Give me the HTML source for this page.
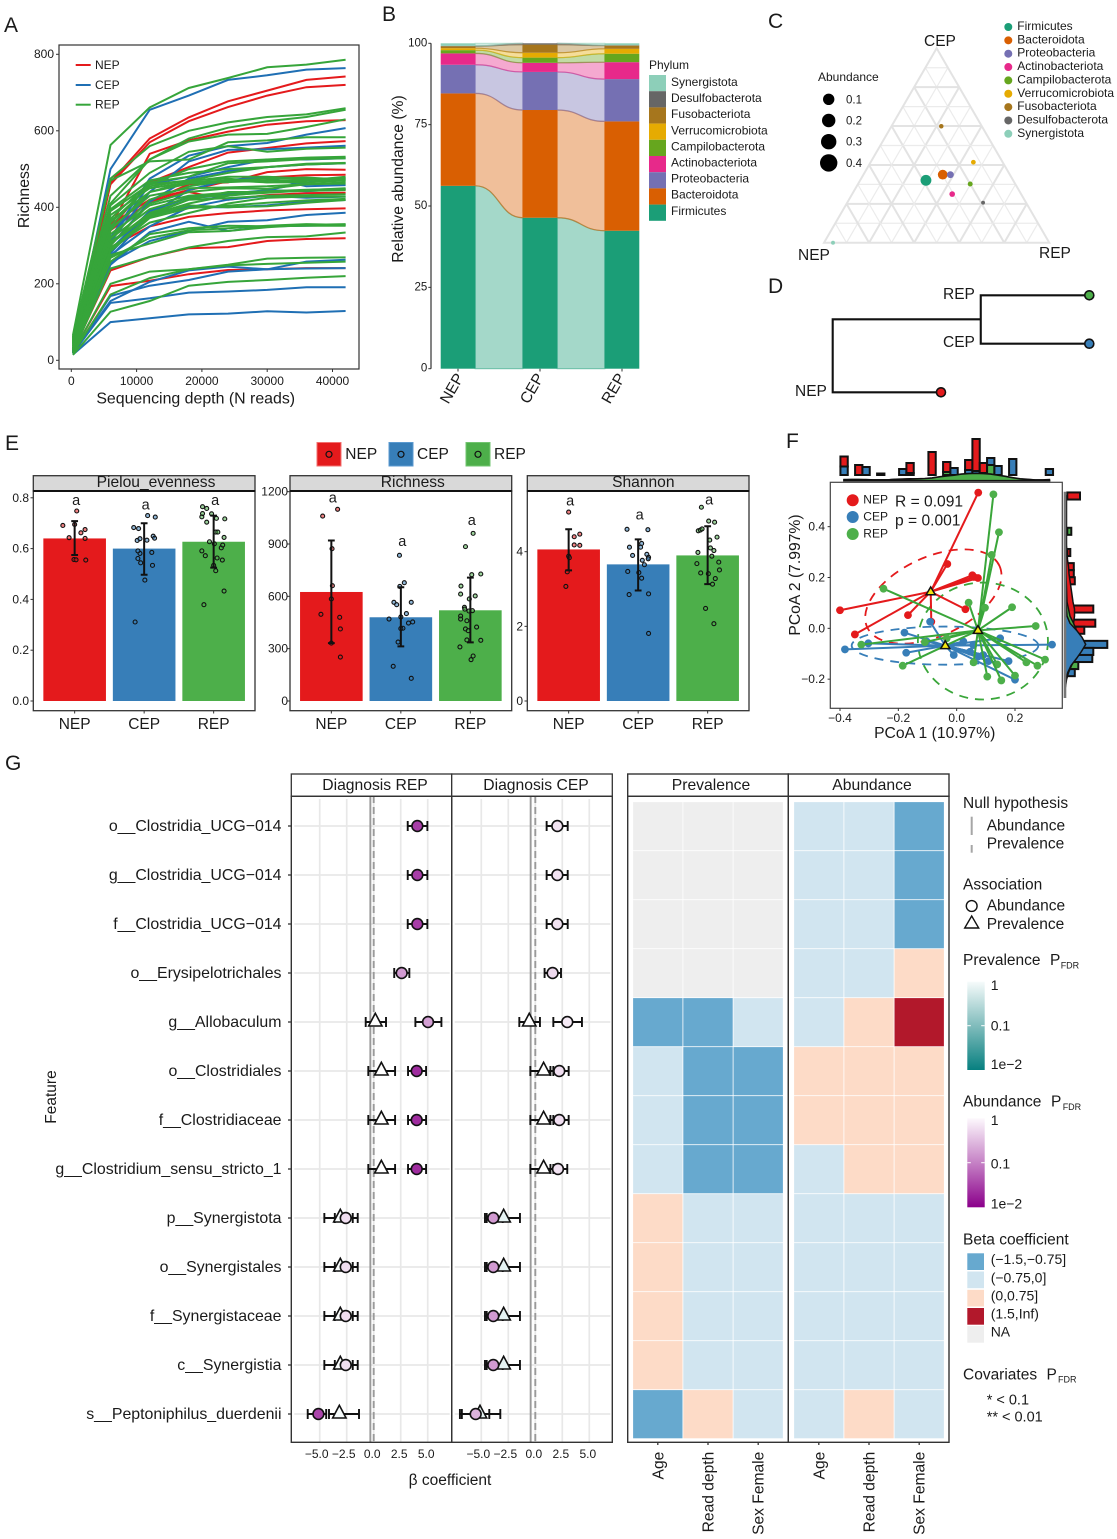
<!DOCTYPE html>
<html lang="en">
<head>
<meta charset="utf-8">
<title>Microbiome multi-panel figure</title>
<style>
html,body{margin:0;padding:0;background:#fff;}
svg{display:block;font-family:"Liberation Sans",Arial,sans-serif;}
text{fill:#1a1a1a;}
</style>
</head>
<body>
<svg id="fig" xmlns="http://www.w3.org/2000/svg" width="1117" height="1539" viewBox="0 0 1117 1539">
<defs>
<linearGradient id="prevGrad" x1="0" y1="0" x2="0" y2="1"><stop offset="0" stop-color="#f6fbfb"/><stop offset="0.5" stop-color="#80bcbc"/><stop offset="1" stop-color="#078080"/></linearGradient>
<linearGradient id="abunGrad" x1="0" y1="0" x2="0" y2="1"><stop offset="0" stop-color="#fdf8fd"/><stop offset="0.5" stop-color="#c581c5"/><stop offset="1" stop-color="#8b008b"/></linearGradient>
</defs>
<rect width="1117" height="1539" fill="#fff"/>

<g font-size="21">
<text x="4" y="32">A</text>
<text x="382" y="21">B</text>
<text x="768" y="28">C</text>
<text x="768" y="293">D</text>
<text x="5" y="450">E</text>
<text x="786" y="448">F</text>
<text x="5" y="770">G</text>
</g>

<g id="panelA">
<rect x="59" y="45" width="300" height="324" fill="none" stroke="#333" stroke-width="1.2"/>
<g id="aLines"></g>
<g id="aAxes"></g>
<text x="195.7" y="403.3" font-size="15.9" text-anchor="middle">Sequencing depth (N reads)</text>
<text transform="translate(29 195.7) rotate(-90)" font-size="15.8" text-anchor="middle">Richness</text>
<g font-size="12">
<line x1="75.7" x2="90.7" y1="65" y2="65" stroke="#e41a1c" stroke-width="2"/>
<text x="95" y="69">NEP</text>
<line x1="75.7" x2="90.7" y1="85" y2="85" stroke="#1f6fb4" stroke-width="2"/>
<text x="95" y="89">CEP</text>
<line x1="75.7" x2="90.7" y1="104.7" y2="104.7" stroke="#36a53a" stroke-width="2"/>
<text x="95" y="108.7">REP</text>
</g>
</g>

<g id="panelB">
<g id="bMarks"></g>
<g id="bAxes"></g>
<text transform="translate(403 179) rotate(-90)" font-size="15.7" text-anchor="middle">Relative abundance (%)</text>
<text x="649" y="69" font-size="12">Phylum</text>
<g id="bLegend"></g>
</g>

<g id="panelC">
<g id="cGrid"></g>
<g id="cPoints"></g>
<g font-size="15.5">
<text x="924" y="46">CEP</text>
<text x="798" y="260">NEP</text>
<text x="1039" y="258">REP</text>
</g>
<text x="818" y="81" font-size="12">Abundance</text>
<g id="cSize"></g>
<g id="cLegend"></g>
</g>

<g id="panelD"></g>

<g id="panelE">
<g font-size="15.5">
<rect x="317" y="442.5" width="24" height="23.5" fill="#e41a1c" stroke="#f2706f"/>
<circle cx="329" cy="454.3" r="3" fill="none" stroke="#111" stroke-width="1.2"/>
<text x="345.3" y="459">NEP</text>
<rect x="389" y="442.5" width="24" height="23.5" fill="#377eb8" stroke="#5b9ad0"/>
<circle cx="401" cy="454.3" r="3" fill="none" stroke="#111" stroke-width="1.2"/>
<text x="417" y="459">CEP</text>
<rect x="466" y="442.5" width="24" height="23.5" fill="#4daf4a" stroke="#72c470"/>
<circle cx="478" cy="454.3" r="3" fill="none" stroke="#111" stroke-width="1.2"/>
<text x="494" y="459">REP</text>
</g>
<g id="eFacets"></g>
</g>

<g id="panelF">
<g id="fTop"></g>
<g id="fRight"></g>
<rect x="830.3" y="482.3" width="232" height="226" fill="#fff" stroke="#444" stroke-width="1.2"/>
<g id="fMarks"></g>
<g id="fAxes"></g>
<text x="934.7" y="738" font-size="15.7" text-anchor="middle">PCoA 1 (10.97%)</text>
<text transform="translate(800 575) rotate(-90)" font-size="15.7" text-anchor="middle">PCoA 2 (7.997%)</text>
<g font-size="12">
<circle cx="852.7" cy="500.3" r="6" fill="#e41a1c"/>
<text x="863.3" y="503.7">NEP</text>
<circle cx="852.7" cy="517" r="6" fill="#377eb8"/>
<text x="863.3" y="520.3">CEP</text>
<circle cx="852.7" cy="534" r="6" fill="#4daf4a"/>
<text x="863.3" y="537.3">REP</text>
</g>
<text x="895" y="506.7" font-size="15.6">R = 0.091</text>
<text x="895" y="525.7" font-size="15.6">p = 0.001</text>
</g>

<g id="panelG">
<g id="gForest"></g>
<g id="gHeat"></g>
<text x="450" y="1485" font-size="15.5" text-anchor="middle">β coefficient</text>
<text transform="translate(56 1097) rotate(-90)" font-size="15.5" text-anchor="middle">Feature</text>
<g font-size="15.5">
<text x="963" y="808">Null hypothesis</text>
<line x1="971.7" x2="971.7" y1="816.7" y2="835" stroke="#a6a6a6" stroke-width="2"/>
<text x="986.7" y="830.7">Abundance</text>
<line x1="971.7" x2="971.7" y1="845" y2="852.7" stroke="#a6a6a6" stroke-width="2"/>
<text x="986.7" y="848.3">Prevalence</text>
</g>
<g font-size="15.5">
<text x="963" y="889.3">Association</text>
<circle cx="971.7" cy="906" r="5.4" fill="#fff" stroke="#111" stroke-width="1.4"/>
<text x="986.7" y="910.7">Abundance</text>
<polygon points="971.7,916 964.7,928 978.7,928" fill="#fff" stroke="#111" stroke-width="1.4"/>
<text x="986.7" y="929">Prevalence</text>
</g>
<g>
<text x="963" y="965" font-size="15.5">Prevalence</text>
<text x="1050" y="965" font-size="15.5">P</text>
<text x="1060.7" y="968.5" font-size="9">FDR</text>
<rect x="967.3" y="981.7" width="17.4" height="88.3" fill="url(#prevGrad)"/>
<line x1="967.3" x2="970.8" y1="1025.7" y2="1025.7" stroke="#fff"/>
<line x1="981.2" x2="984.7" y1="1025.7" y2="1025.7" stroke="#fff"/>
<g font-size="14">
<text x="990.7" y="990">1</text>
<text x="990.7" y="1030.7">0.1</text>
<text x="990.7" y="1069">1e−2</text>
</g>
</g>
<g>
<text x="963" y="1106.7" font-size="15.5">Abundance</text>
<text x="1051" y="1106.7" font-size="15.5">P</text>
<text x="1062.7" y="1110" font-size="9">FDR</text>
<rect x="967.3" y="1118.3" width="17.4" height="89" fill="url(#abunGrad)"/>
<line x1="967.3" x2="970.8" y1="1162.7" y2="1162.7" stroke="#fff"/>
<line x1="981.2" x2="984.7" y1="1162.7" y2="1162.7" stroke="#fff"/>
<g font-size="14">
<text x="990.7" y="1125">1</text>
<text x="990.7" y="1168.3">0.1</text>
<text x="990.7" y="1208.3">1e−2</text>
</g>
</g>
<g>
<text x="963" y="1244.3" font-size="15.5">Beta coefficient</text>
<rect x="967.3" y="1253.3" width="16.7" height="16.7" fill="#67a9cf"/>
<rect x="967.3" y="1271.5" width="16.7" height="16.7" fill="#d1e5f0"/>
<rect x="967.3" y="1289.8" width="16.7" height="16.7" fill="#fddbc7"/>
<rect x="967.3" y="1308" width="16.7" height="16.7" fill="#b2182b"/>
<rect x="967.3" y="1326" width="16.7" height="16.7" fill="#eeeeee"/>
<g font-size="14">
<text x="990.7" y="1264">(−1.5,−0.75]</text>
<text x="990.7" y="1282.3">(−0.75,0]</text>
<text x="990.7" y="1300.7">(0,0.75]</text>
<text x="990.7" y="1318.7">(1.5,Inf)</text>
<text x="990.7" y="1336.7">NA</text>
</g>
</g>
<g>
<text x="963" y="1379.3" font-size="15.5">Covariates</text>
<text x="1046.5" y="1379.3" font-size="15.5">P</text>
<text x="1058" y="1382.5" font-size="9">FDR</text>
<text x="986.7" y="1404.3" font-size="14.5">* &lt; 0.1</text>
<text x="986.7" y="1421.7" font-size="14.5">** &lt; 0.01</text>
</g>
</g>
</svg>

<script>
/* ---------- Panel A data ---------- */
const rareDepths=[250,6000,12000,18000,24000,30000,36000,42000];
const rareXTicks=[0,10000,20000,30000,40000];
const rareYTicks=[0,200,400,600,800];
const rareNEP=[
[25,465,580,635,677,705,733,742],[28,460,570,625,662,692,714,720],[30,350,540,575,598,616,625,628],
[30,345,465,505,543,555,567,573],[25,340,415,460,465,492,500,498],[30,355,420,445,468,478,484,485],
[28,300,415,440,420,432,437,438],[26,295,350,375,385,392,395,397],[24,235,270,293,296,312,317,319],
[22,194,208,225,236,238,241,241]];
const rareCEP=[
[30,500,655,692,733,745,760,764],[28,320,475,535,560,568,590,607],[26,310,440,520,550,552,556,561],
[25,315,460,480,505,525,525,528],[24,300,415,475,495,505,512,515],[24,280,390,425,430,445,465,476],
[22,270,380,445,472,478,455,458],[22,290,390,427,435,445,442,448],[20,285,380,400,420,430,425,428],
[20,275,350,400,400,405,415,419],[20,255,312,338,362,366,380,386],[20,250,335,362,338,350,352,354],
[18,168,195,210,232,238,258,263],[18,150,162,177,180,184,191,191],[15,100,110,120,122,128,125,129],
[18,155,205,235,245,238,240,241]];
const rareREP=[
[65,563,661,712,738,766,773,786],[60,475,560,600,622,636,643,659],[58,430,525,580,608,625,636,655],
[55,410,525,572,590,592,610,630],[52,470,520,525,570,575,583,583],[50,405,490,545,560,545,553,556],
[48,390,460,500,520,525,530,532],[46,370,465,480,515,520,526,528],[44,360,455,470,490,505,512,515],
[42,350,460,470,475,465,470,480],[40,340,440,468,480,480,475,476],[38,320,420,455,470,465,465,470],
[36,300,410,440,450,448,460,465],[34,310,380,420,440,440,445,450],[32,305,380,410,430,440,443,445],
[30,295,360,385,410,425,428,428],[28,290,375,405,400,403,412,419],[26,268,320,340,345,352,356,354],
[25,275,305,335,338,348,354,356],[22,240,270,295,312,322,324,334],[20,200,232,238,250,266,268,269],
[18,172,215,238,248,252,255,258],[14,127,155,195,205,210,216,220],
[62,395,470,490,500,505,514,516],[57,380,450,465,470,475,478,472],[53,365,440,462,466,470,472,470],
[49,345,430,450,452,455,460,462],[45,330,405,430,438,442,446,448],[41,318,395,425,432,438,444,446],
[37,308,385,420,424,430,432,434],[33,285,372,398,404,412,418,422],[29,258,330,345,352,350,352,352]];

/* ---------- Panel B data ---------- */
const phyla=["Firmicutes","Bacteroidota","Proteobacteria","Actinobacteriota","Campilobacterota","Verrucomicrobiota","Fusobacteriota","Desulfobacterota","Synergistota"];
const phylaColors=["#1b9e77","#d95f02","#7570b3","#e7298a","#66a61e","#e6ab02","#a6761d","#666666","#8dcfb9"];
const stackNEP=[56.2,28.4,8.8,3.5,1.0,0.6,0.6,0.1,0.8];
const stackCEP=[46.4,33.1,11.7,2.8,1.6,1.5,2.5,0.4,0];
const stackREP=[42.4,33.6,13.0,5.2,2.6,1.5,1.0,0.1,0.6];
const stackYTicks=[0,25,50,75,100];
const stackGroups=["NEP","CEP","REP"];

/* ---------- Panel C data ---------- */
const ternNEP=[0.387,0.298,0.264,0.306,0.2,0.13,0.18,0.191,0.96];
const ternCEP=[0.321,0.35,0.35,0.25,0.302,0.414,0.599,0.206,0];
const ternREP=[0.292,0.352,0.386,0.444,0.498,0.456,0.221,0.603,0.04];
const ternAbundance=[0.46,0.33,0.1,0.04,0.02,0.015,0.01,0.002,0.002];
const ternLevels=[0.1,0.2,0.3,0.4,0.5,0.6,0.7,0.8,0.9];
const sizeLegendValues=[0.1,0.2,0.3,0.4];

/* ---------- Panel D data ---------- */
const treeLabels=["REP","CEP","NEP"];
const treeDepth=[1,1,0.422];
const treeNode=0.577;
const treeColors=["#4daf4a","#377eb8","#e41a1c"];

/* ---------- Panel E data ---------- */
const groups=["NEP","CEP","REP"];
const pielouMean=[0.64,0.60,0.627];
const pielouLo=[0.575,0.497,0.525];
const pielouHi=[0.708,0.70,0.73];
const pielouTicks=[0,0.2,0.4,0.6,0.8];
const pielouNEP=[[-.17,.691],[.03,.748],[0,.695],[.15,.675],[.09,.662],[-.08,.643],[.15,.64],[-.01,.557],[.02,.556],[.16,.555]];
const pielouCEP=[[-.13,.311],[.01,.476],[.12,.534],[.11,.585],[-.05,.544],[-.09,.561],[-.06,.581],[-.09,.591],[-.1,.632],[-.06,.639],[.04,.633],[.13,.649],[.15,.641],[-.15,.683],[-.08,.679],[.05,.73],[.16,.724]];
const pielouREP=[[-.14,.379],[.15,.433],[.03,.513],[0,.534],[.125,.555],[.05,.563],[-.12,.572],[-.17,.591],[.11,.603],[.13,.614],[.01,.619],[-.06,.627],[.15,.644],[.03,.665],[.06,.665],[-.1,.704],[.04,.719],[.16,.717],[-.03,.737],[-.17,.725],[-.16,.738],[-.1,.758],[-.16,.765]];
const richMean=[625,480,520];
const richLo=[332,313,336];
const richHi=[920,652,707];
const richTicks=[0,300,600,900,1200];
const richNEP=[[.09,1099],[-.125,1060],[.01,873],[.015,661],[0,585],[-.15,497],[.12,480],[.13,413],[0,332],[.13,252]];
const richCEP=[[-.02,835],[.05,678],[-.015,657],[-.1,566],[-.06,552],[.15,566],[.08,501],[0,482],[-.17,470],[.11,447],[.17,453],[.03,417],[0,415],[-.04,338],[-.11,199],[.15,130]];
const richREP=[[.04,961],[-.07,885],[.02,724],[.15,728],[-.135,659],[-.14,613],[.07,602],[-.015,585],[-.085,537],[-.08,527],[-.02,516],[.03,518],[-.14,487],[-.14,470],[-.05,460],[.09,424],[-.07,413],[-.03,403],[-.05,350],[.15,348],[-.15,310],[.04,258],[.01,237]];
const shanMean=[4.06,3.66,3.9];
const shanLo=[3.5,2.96,3.13];
const shanHi=[4.6,4.33,4.68];
const shanTicks=[0,2,4];
const shanNEP=[[0,5.06],[.16,4.47],[.08,4.40],[.08,4.18],[.16,4.17],[0,3.88],[.01,3.84],[-.02,3.46],[-.04,3.07]];
const shanCEP=[[-.16,4.6],[.14,4.59],[.05,4.22],[-.125,4.12],[.035,4.12],[-.08,3.9],[.125,3.93],[.15,3.85],[.145,3.81],[.06,3.77],[.09,3.65],[-.15,3.47],[.01,3.44],[.05,3.29],[-.13,2.85],[.15,2.87],[.15,1.81]];
const shanREP=[[-.09,5.19],[.015,4.82],[.1,4.79],[-.135,4.56],[-.105,4.58],[-.08,4.61],[.135,4.39],[.03,4.31],[.04,4.1],[.09,4.03],[-.14,3.98],[.06,3.88],[.16,3.72],[-.155,3.68],[.17,3.51],[-.1,3.43],[.01,3.41],[.11,3.28],[.07,3.13],[-.03,2.48],[.09,2.07]];
const facetTitles=["Pielou_evenness","Richness","Shannon"];

/* ---------- Panel F data ---------- */
const pcoaXTicks=[-0.4,-0.2,0,0.2];
const pcoaYTicks=[-0.2,0,0.2,0.4];
const centroidsX=[-0.089,-0.039,0.073];
const centroidsY=[0.144,-0.068,-0.008];
const pcoaNEPx=[0.074,-0.032,0.054,0.073,0.059,0.03,-0.167,-0.087,-0.4,-0.349];
const pcoaNEPy=[0.534,0.253,0.209,0.198,0.202,0.075,0.052,0.026,0.071,-0.024];
const pcoaCEPx=[-0.383,-0.173,-0.179,-0.091,-0.01,0.327,0.2,0.178,0.149,0.109,0.057,0.023,0.074,-0.303,-0.103,0.091,0.046];
const pcoaCEPy=[-0.083,-0.096,-0.017,0.026,-0.105,-0.064,-0.202,-0.129,-0.039,-0.129,-0.066,-0.052,-0.111,-0.059,-0.052,-0.105,-0.092];
const pcoaREPx=[-0.251,0.126,0.145,0.12,0.041,0.097,0.19,0.271,0.303,0.277,0.239,0.139,0.2,0.153,0.105,0.058,-0.185,-0.327,-0.109,-0.034];
const pcoaREPy=[0.156,0.527,0.378,0.289,0.101,0.081,0.083,0.009,-0.123,-0.147,-0.134,-0.142,-0.186,-0.205,-0.19,-0.134,-0.147,-0.064,-0.054,-0.039];
const ellipseCX=[-0.08,-0.04,0.09];
const ellipseCY=[0.125,-0.068,-0.05];
const ellipseA=[0.25,0.32,0.223];
const ellipseB=[0.155,0.075,0.23];
const ellipseAngle=[-25,0,0];
const topHistStart=-0.386;
const topHistStep=0.02514;
const topNEP=[1,0,1,0,0,0,0,0,0,1,0,0,2.3,0,1,0,0,1,3.2,1,0,0,0,0,0,0,0,0,0];
const topCEP=[.85,0,0,.8,0,.15,0,0,.6,.2,0,0,0,0,0,.7,0,.5,.4,0,.7,.9,0,1.6,0,0,0,0,.6];
const topREP=[0,0,0,0,0,0,0,0,0,0,0,0,0,0,.3,0,0,0,0,.2,1,0,0,0,0,0,0,0,0];
const topDensNEP=[.15,.2,.2,.15,.1,.1,.15,.25,.3,.35,.3,.3,.4,.4,.4,.45,.5,.55,.5,.4,.3,.2,.1,.1,.05,.05,.05,.05,.05];
const topDensCEP=[.2,.2,.2,.2,.15,.15,.15,.2,.25,.2,.15,.15,.15,.2,.25,.3,.3,.35,.4,.45,.5,.5,.5,.45,.3,.2,.15,.15,.2];
const topDensREP=[.1,.1,.1,.1,.1,.15,.15,.2,.25,.3,.35,.4,.5,.7,.85,1,1.2,1.3,1.35,1.3,1.2,1,.8,.55,.35,.25,.15,.1,.05];
const rightHistStart=0.5207;
const rightHistStep=-0.0278;
const rightNEP=[1.27,0,0,0,0,0,0,0,.3,0,.65,.65,.75,0,0,0,2.6,0,2.8,.9,0,0,0,0,0,0,0,0];
const rightCEP=[0,0,0,0,0,0,0,0,0,0,0,0,0,0,0,0,0,0,0,.8,0,4,2.6,2.2,0,.75,.0,0];
const rightREP=[0,0,0,0,0,.4,0,0,0,0,0,0,0,0,0,0,0,0,0,0,0,0,0,.3,1.1,0,0,0];
const rightDensNEP=[.15,.15,.15,.15,.15,.15,.15,.15,.2,.25,.35,.4,.5,.6,.7,.8,.95,.95,.85,.7,.5,.4,.27,.2,.1,.05,.03,.02];
const rightDensCEP=[.02,.02,.02,.02,.02,.02,.02,.02,.02,.02,.03,.03,.03,.05,.07,.1,.15,.2,.5,1.15,1.7,2.07,1.65,1.15,.6,.27,.1,.03];
const rightDensREP=[.08,.08,.1,.12,.12,.12,.1,.1,.1,.1,.1,.1,.12,.15,.17,.2,.35,.5,.85,1.15,1.35,1.35,1.15,1,.65,.35,.15,.05];

/* ---------- Panel G data ---------- */
const features=["o__Clostridia_UCG−014","g__Clostridia_UCG−014","f__Clostridia_UCG−014","o__Erysipelotrichales","g__Allobaculum","o__Clostridiales","f__Clostridiaceae","g__Clostridium_sensu_stricto_1","p__Synergistota","o__Synergistales","f__Synergistaceae","c__Synergistia","s__Peptoniphilus_duerdenii"];
const betaTicks=[-5,-2.5,0,2.5,5];
const repAbEst=[4.04,4.04,4.04,2.59,5.03,3.98,3.98,3.98,-2.59,-2.59,-2.59,-2.59,-5.12];
const repAbLo=[3.15,3.15,3.15,1.9,3.86,3.18,3.18,3.18,-3.6,-3.6,-3.6,-3.6,-6.11];
const repAbHi=[4.97,4.97,4.97,3.3,6.27,4.85,4.85,4.85,-1.48,-1.48,-1.48,-1.48,-4.4];
const repAbP=[.03,.03,.03,.16,.18,.022,.022,.022,.55,.55,.55,.55,.035];
const repPrEst=[null,null,null,null,.15,.71,.71,.71,-3.09,-3.09,-3.09,-3.09,-3.18];
const repPrLo=[null,null,null,null,-.74,-.5,-.5,-.5,-4.57,-4.57,-4.57,-4.57,-4.14];
const repPrHi=[null,null,null,null,1.14,1.98,1.98,1.98,-1.94,-1.94,-1.94,-1.94,-1.36];
const repPrP=[null,null,null,null,1,1,1,1,.9,.9,.9,.9,.85];
const cepAbEst=[2.04,2.04,2.04,1.6,2.96,2.22,2.22,2.1,-3.89,-3.89,-3.89,-3.89,-5.52];
const cepAbLo=[1.05,1.05,1.05,.86,1.67,1.4,1.4,1.4,-4.66,-4.66,-4.66,-4.66,-6.98];
const cepAbHi=[3,3,3,2.38,4.32,3.09,3.09,2.96,-3.02,-3.02,-3.02,-3.02,-4.26];
const cepAbP=[.6,.6,.6,.5,.7,.55,.55,.6,.16,.16,.16,.16,.25];
const cepPrEst=[null,null,null,null,-.56,.77,.77,.77,-2.93,-2.93,-2.93,-2.93,-5.12];
const cepPrLo=[null,null,null,null,-1.48,-.46,-.46,-.46,-4.5,-4.5,-4.5,-4.5,-6.8];
const cepPrHi=[null,null,null,null,.43,1.67,1.67,1.67,-1.42,-1.42,-1.42,-1.42,-3.24];
const cepPrP=[null,null,null,null,1,1,1,1,.63,.63,.63,.63,.63];
const heatCols=["Age","Read depth","Sex Female"];
const heatPrevalence=[
[null,null,null],[null,null,null],[null,null,null],[null,null,null],
[-1,-1,-.3],[-.3,-1,-1],[-.3,-1,-1],[-.3,-1,-1],
[.3,-.3,-.3],[.3,-.3,-.3],[.3,-.3,-.3],[.3,-.3,-.3],[-1,.3,-.3]];
const heatAbundance=[
[-.3,-.3,-1],[-.3,-.3,-1],[-.3,-.3,-1],[-.3,-.3,.3],
[-.3,.3,2],[.3,.3,.3],[.3,.3,.3],[-.3,.3,.3],
[-.3,-.3,-.3],[-.3,-.3,-.3],[-.3,-.3,-.3],[-.3,-.3,-.3],[-.3,.3,-.3]];

/* ---------- helpers ---------- */
const NS="http://www.w3.org/2000/svg";
function mk(parent,tag,attrs,txt){
  const e=document.createElementNS(NS,tag);
  for(const k in attrs){e.setAttribute(k,attrs[k]);}
  if(txt!==undefined){e.textContent=txt;}
  parent.appendChild(e);
  return e;
}
const $=id=>document.getElementById(id);
const fmtMinus=s=>String(s).replace("-","−");
const RED="#e41a1c",BLUE="#377eb8",GREEN="#4daf4a";

/* ---------- Panel A ---------- */
(function(){
  const xA=d=>71.3+d*65.3/10000;
  const yA=v=>360.3-v*0.3825;
  const g=$("aLines");
  const sets=[[rareNEP,"#e41a1c","rarefaction-line-nep"],[rareCEP,"#1f6fb4","rarefaction-line-cep"],[rareREP,"#36a53a","rarefaction-line-rep"]];
  sets.forEach(function(s){
    s[0].forEach(function(c){
      const pts=c.map(function(v,i){return xA(rareDepths[i]).toFixed(1)+","+yA(v).toFixed(1);}).join(" ");
      const l=mk(g,"polyline",{points:pts,fill:"none",stroke:s[1],"stroke-width":2});
      
      
    });
  });
  const ax=$("aAxes");
  rareXTicks.forEach(function(t){
    const k=mk(ax,"line",{x1:xA(t),x2:xA(t),y1:369,y2:372,stroke:"#333"});
    
    
    const l=mk(ax,"text",{x:xA(t),y:385,"font-size":12,"text-anchor":"middle"},t);
    
    
  });
  rareYTicks.forEach(function(t){
    const k=mk(ax,"line",{x1:56,x2:59,y1:yA(t),y2:yA(t),stroke:"#333"});
    
    
    const l=mk(ax,"text",{x:54,y:yA(t)+3.5,"font-size":12,"text-anchor":"end"},t);
    
    
  });
})();

/* ---------- Panel B ---------- */
(function(){
  const yB=v=>368.7-v*3.254;
  const barL=[440.7,522.7,604.7];
  const barW=34.6;
  const cols=[stackNEP,stackCEP,stackREP];
  const cums=cols.map(function(c){let s=0;return c.map(function(v){const a=s;s+=v;return [a,s];});});
  const g=$("bMarks");
  for(let f=0;f<2;f++){
    const x0=barL[f]+barW,x1=barL[f+1],mx=(x0+x1)/2;
    phyla.forEach(function(p,i){
      const a=cums[f][i],b=cums[f+1][i];
      const d="M"+x0+" "+yB(a[1])+"C"+mx+" "+yB(a[1])+" "+mx+" "+yB(b[1])+" "+x1+" "+yB(b[1])+
              "L"+x1+" "+yB(b[0])+"C"+mx+" "+yB(b[0])+" "+mx+" "+yB(a[0])+" "+x0+" "+yB(a[0])+"Z";
      const fl=mk(g,"path",{d:d,fill:phylaColors[i],"fill-opacity":0.4,stroke:phylaColors[i],"stroke-opacity":0.5,"stroke-width":1.2});
      
      
    });
  }
  cols.forEach(function(c,f){
    phyla.forEach(function(p,i){
      const a=cums[f][i];
      if(c[i]<=0){return;}
      const r=mk(g,"rect",{x:barL[f],y:yB(a[1]),width:barW,height:yB(a[0])-yB(a[1]),fill:phylaColors[i]});
      
      
    });
  });
  const ax=$("bAxes");
  const al=mk(ax,"line",{x1:431,x2:431,y1:yB(100),y2:yB(0),stroke:"#666","stroke-width":1.6});
  
  
  stackYTicks.forEach(function(t){
    const k=mk(ax,"line",{x1:428.3,x2:431,y1:yB(t),y2:yB(t),stroke:"#333"});
    
    
    const l=mk(ax,"text",{x:427.3,y:yB(t)+3,"font-size":11.5,"text-anchor":"end"},t);
    
    
  });
  stackGroups.forEach(function(n,i){
    const cx=barL[i]+barW/2;
    const k=mk(ax,"line",{x1:cx,x2:cx,y1:368.7,y2:371.5,stroke:"#333"});
    
    
    const tx=cx-(i===0?6:(i===1?8:8.5)),ty=388.5;
    const l=mk(ax,"text",{x:tx,y:ty+5,"font-size":15.5,"text-anchor":"middle",transform:"rotate(-60 "+tx+" "+ty+")"},n);
    
    
  });
  const lg=$("bLegend");
  for(let i=phyla.length-1,row=0;i>=0;i--,row++){
    const r=mk(lg,"rect",{x:649,y:75+row*16.2,width:17,height:16.2,fill:phylaColors[i]});
    
    
    const t=mk(lg,"text",{x:671,y:86+row*16.1,"font-size":12},phyla[i]);
    
    
  }
})();

/* ---------- Panel C ---------- */
(function(){
  const Lx=824,Ly=242.7,W=225.3,H=194.4;
  const tx=(r,c)=>Lx+(r+c/2)*W;
  const ty=c=>Ly-c*H;
  const grid=$("cGrid");
  function seg(r1,c1,r2,c2,major){
    const l=mk(grid,"line",{x1:tx(r1,c1),y1:ty(c1),x2:tx(r2,c2),y2:ty(c2),stroke:major?"#e3e3e3":"#ebebeb","stroke-width":major?2:1.2});
    
    
  }
  ternLevels.forEach(function(f,i){
    const major=(i%2===1);
    seg(0,f,1-f,f,major);
    seg(f,0,f,1-f,major);
    seg(0,1-f,1-f,0,major);
  });
  const o=mk(grid,"polygon",{points:tx(0,0)+","+ty(0)+" "+tx(1,0)+","+ty(0)+" "+tx(0,1)+","+ty(1),fill:"none",stroke:"#e3e3e3","stroke-width":2});
  
  
  const pg=$("cPoints");
  phyla.forEach(function(p,i){
    const total=ternNEP[i]+ternCEP[i]+ternREP[i];
    const c=mk(pg,"circle",{cx:tx(ternREP[i]/total,ternCEP[i]/total),cy:ty(ternCEP[i]/total),r:1.7+5.5*Math.sqrt(ternAbundance[i]),fill:phylaColors[i]});
    
    
  });
  const sz=$("cSize");
  sizeLegendValues.forEach(function(v,i){
    const y=99.3+i*21.2;
    const c=mk(sz,"circle",{cx:828.7,cy:y,r:4.7+10*v,fill:"#000"});
    
    
    const t=mk(sz,"text",{x:846,y:y+4,"font-size":11.5},v.toFixed(1));
    
    
  });
  const lg=$("cLegend");
  phyla.forEach(function(p,i){
    const y=27+i*13.35;
    const c=mk(lg,"circle",{cx:1008.3,cy:y,r:4,fill:phylaColors[i]});
    
    
    const t=mk(lg,"text",{x:1017.3,y:y+3,"font-size":12},p);
    
    
  });
})();

/* ---------- Panel D ---------- */
(function(){
  const g=$("panelD");
  const xD=v=>832.7+256.6*v;
  const rowY=[295.3,343.7,392.3];
  const nodeY=(rowY[0]+rowY[1])/2-0.2;
  const d="M"+xD(treeDepth[2])+" "+rowY[2]+"H"+xD(0)+"V"+nodeY+"H"+xD(treeNode)+
          "M"+xD(treeDepth[0])+" "+rowY[0]+"H"+xD(treeNode)+"V"+rowY[1]+"H"+xD(treeDepth[1]);
  const p=mk(g,"path",{d:d,fill:"none",stroke:"#111","stroke-width":2.1});
  
  
  treeLabels.forEach(function(n,i){
    const c=mk(g,"circle",{cx:xD(treeDepth[i]),cy:rowY[i],r:4.5,fill:treeColors[i],stroke:"#111","stroke-width":1.6});
    
    
    const lx=i<2?943:795;
    const t=mk(g,"text",{x:lx,y:rowY[i]+3.5,"font-size":15.5},n);
    
    
  });
})();

/* ---------- Panel E ---------- */
(function(){
  const root=$("eFacets");
  const fills=[RED,BLUE,GREEN];
  const letterY=[[505,509.7,505],[502.7,546,525],[505.7,519.7,504.3]];
  const facets=[
    {x0:33.3,x1:255,titleX:156,lblX:29,tickX:[30.5,33.3],scale:v=>701-v*254,ticks:pielouTicks,fmt:v=>v.toFixed(1),mean:pielouMean,lo:pielouLo,hi:pielouHi,dots:[pielouNEP,pielouCEP,pielouREP]},
    {x0:290,x1:511.7,titleX:412.8,lblX:288,tickX:[287.2,290],scale:v=>701-v*0.17444,ticks:richTicks,fmt:v=>String(v),mean:richMean,lo:richLo,hi:richHi,dots:[richNEP,richCEP,richREP]},
    {x0:527.3,x1:749,titleX:643.3,lblX:523,tickX:[524.5,527.3],scale:v=>701-v*37.33,ticks:shanTicks,fmt:v=>String(v),mean:shanMean,lo:shanLo,hi:shanHi,dots:[shanNEP,shanCEP,shanREP]}
  ];
  facets.forEach(function(f,fi){
    const g=mk(root,"g",{});
    
    
    const strip=mk(g,"rect",{x:f.x0,y:475.7,width:f.x1-f.x0,height:15.3,fill:"#d9d9d9",stroke:"#333","stroke-width":1.3});
    
    
    const panel=mk(g,"rect",{x:f.x0,y:491,width:f.x1-f.x0,height:219.7,fill:"#fff",stroke:"#333","stroke-width":1.3});
    
    
    const sl=mk(g,"line",{x1:f.x0,x2:f.x1,y1:491,y2:491,stroke:"#111","stroke-width":1.9});
    
    
    const title=mk(g,"text",{x:f.titleX,y:487,"font-size":15.6,"text-anchor":"middle"},facetTitles[fi]);
    
    
    f.ticks.forEach(function(t){
      const k=mk(g,"line",{x1:f.tickX[0],x2:f.tickX[1],y1:f.scale(t),y2:f.scale(t),stroke:"#333"});
      
      
      const l=mk(g,"text",{x:f.lblX,y:f.scale(t)+4,"font-size":12,"text-anchor":"end"},f.fmt(t));
      
      
    });
    const mid=(f.x0+f.x1)/2;
    groups.forEach(function(n,i){
      const cx=mid+(i-1)*69.5;
      const b=mk(g,"rect",{x:cx-31.3,y:f.scale(f.mean[i]),width:62.6,height:701-f.scale(f.mean[i]),fill:fills[i]});
      
      
      f.dots[i].forEach(function(d){
        const c=mk(g,"circle",{cx:cx+d[0]*69.5,cy:f.scale(d[1]),r:2,fill:fills[i],"fill-opacity":0.55,stroke:"#111","stroke-width":1.1});
        
        
      });
      const yl=f.scale(f.lo[i]),yh=f.scale(f.hi[i]);
      const e=mk(g,"path",{d:"M"+cx+" "+yl+"V"+yh+"M"+(cx-3.4)+" "+yl+"H"+(cx+3.4)+"M"+(cx-3.4)+" "+yh+"H"+(cx+3.4),fill:"none",stroke:"#111","stroke-width":2});
      
      
      const k=mk(g,"line",{x1:cx,x2:cx,y1:710.7,y2:713.5,stroke:"#333"});
      
      
      const l=mk(g,"text",{x:cx,y:729,"font-size":15.5,"text-anchor":"middle"},n);
      
      
      const a=mk(g,"text",{x:cx+1.5,y:letterY[fi][i],"font-size":14.5,"text-anchor":"middle"},"a");
      
      
    });
  });
})();

/* ---------- Panel F ---------- */
(function(){
  const xF=v=>770+(560+875*v)/3;
  const yF=v=>425+(610-762.5*v)/3;
  const fills=[RED,BLUE,GREEN];
  const lineCols=["#e41a1c","#377eb8","#3aa63a"];
  const marks=$("fMarks");
  ellipseCX.forEach(function(cx,i){
    const px=xF(cx),py=yF(ellipseCY[i]);
    const e=mk(marks,"ellipse",{cx:px,cy:py,rx:ellipseA[i]*291.67,ry:ellipseB[i]*254.17,fill:"none",stroke:lineCols[i],"stroke-width":1.8,"stroke-dasharray":"9 7",transform:"rotate("+ellipseAngle[i]+" "+px+" "+py+")"});
    
    
  });
  const sets=[[pcoaNEPx,pcoaNEPy],[pcoaCEPx,pcoaCEPy],[pcoaREPx,pcoaREPy]];
  sets.forEach(function(s,gi){
    s[0].forEach(function(x,i){
      const l=mk(marks,"line",{x1:xF(centroidsX[gi]),y1:yF(centroidsY[gi]),x2:xF(x),y2:yF(s[1][i]),stroke:lineCols[gi],"stroke-width":2});
      
      
      const c=mk(marks,"circle",{cx:xF(x),cy:yF(s[1][i]),r:3.9,fill:fills[gi]});
      
      
    });
  });
  centroidsX.forEach(function(x,i){
    const px=xF(x),py=yF(centroidsY[i]);
    const t=mk(marks,"polygon",{points:px+","+(py-4.8)+" "+(px-4.6)+","+(py+3)+" "+(px+4.6)+","+(py+3),fill:"#f5e60f",stroke:"#111","stroke-width":1.5});
    
    
  });
  const ax=$("fAxes");
  pcoaXTicks.forEach(function(t){
    const k=mk(ax,"line",{x1:xF(t),x2:xF(t),y1:708.3,y2:711,stroke:"#333"});
    
    
    const l=mk(ax,"text",{x:xF(t),y:722,"font-size":12,"text-anchor":"middle"},fmtMinus(t.toFixed(1)));
    
    
  });
  pcoaYTicks.forEach(function(t){
    const k=mk(ax,"line",{x1:827.6,x2:830.3,y1:yF(t),y2:yF(t),stroke:"#333"});
    
    
    const l=mk(ax,"text",{x:825,y:yF(t)+4,"font-size":12,"text-anchor":"end"},fmtMinus(t.toFixed(1)));
    
    
  });
  /* top marginal */
  const top=$("fTop");
  const topBase=475,unit=10,barW=7.33;
  topNEP.forEach(function(v,i){
    const cx=xF(topHistStart+i*topHistStep);
    let base=topBase;
    [[topREP[i],GREEN],[topCEP[i],BLUE],[v,RED]].forEach(function(p){
      if(p[0]<=0){return;}
      const h=p[0]*unit;
      const r=mk(top,"rect",{x:cx-barW/2,y:base-h,width:barW,height:h,fill:p[1],stroke:"#111","stroke-width":2});
      
      
      base-=h;
    });
  });
  const topFloor=480.7;
  [[topDensNEP,RED],[topDensCEP,BLUE],[topDensREP,GREEN]].forEach(function(p){
    let pts=[];
    p[0].forEach(function(v,i){pts.push(xF(topHistStart+i*topHistStep).toFixed(1)+","+(topFloor-v*5.5).toFixed(1));});
    pts.push(xF(topHistStart+28*topHistStep).toFixed(1)+","+topFloor);
    pts.push(xF(topHistStart).toFixed(1)+","+topFloor);
    const a=mk(top,"polygon",{points:pts.join(" "),fill:p[1],stroke:"#111","stroke-width":1.6});
    
    
  });
  /* right marginal */
  const right=$("fRight");
  const rBase=1067.3,barH=7.07;
  rightNEP.forEach(function(v,i){
    const cy=yF(rightHistStart+i*rightHistStep);
    let base=rBase;
    [[rightREP[i],GREEN],[rightCEP[i],BLUE],[v,RED]].forEach(function(p){
      if(p[0]<=0){return;}
      const w=p[0]*unit;
      const r=mk(right,"rect",{x:base,y:cy-barH/2,width:w,height:barH,fill:p[1],stroke:"#111","stroke-width":2});
      
      
      base+=w;
    });
  });
  const rFloor=1065;
  [[rightDensNEP,RED],[rightDensREP,GREEN],[rightDensCEP,BLUE]].forEach(function(p){
    let pts=[];
    p[0].forEach(function(v,i){pts.push((rFloor+v*10).toFixed(1)+","+yF(rightHistStart+i*rightHistStep).toFixed(1));});
    pts.push(rFloor+","+yF(rightHistStart+27*rightHistStep).toFixed(1));
    pts.push(rFloor+","+yF(rightHistStart).toFixed(1));
    const a=mk(right,"polygon",{points:pts.join(" "),fill:p[1],stroke:"#111","stroke-width":1.5});
    
    
  });
  const gl=mk(right,"line",{x1:1065,x2:1065,y1:491.7,y2:698,stroke:"#777","stroke-width":2.6});
  
  
})();

/* ---------- Panel G forest ---------- */
(function(){
  const root=$("gForest");
  const rowY=i=>826+i*49;
  const lerp=(a,b,t)=>Math.round(a+(b-a)*t);
  const col=(end,p)=>{const t=Math.min(1,Math.max(0,-Math.log10(p)/2));return "rgb("+lerp(255,end[0],t)+","+lerp(255,end[1],t)+","+lerp(255,end[2],t)+")";};
  const facets=[
    {title:"Diagnosis REP",x0:291.3,x1:451.7,zero:373.7,nullAb:-0.31,ae:repAbEst,al:repAbLo,ah:repAbHi,ap:repAbP,pe:repPrEst,pl:repPrLo,ph:repPrHi,pp:repPrP,tx:375},
    {title:"Diagnosis CEP",x0:451.7,x1:612.3,zero:535.3,nullAb:-0.43,ae:cepAbEst,al:cepAbLo,ah:cepAbHi,ap:cepAbP,pe:cepPrEst,pl:cepPrLo,ph:cepPrHi,pp:cepPrP,tx:536}
  ];
  features.forEach(function(n,i){
    const k=mk(root,"line",{x1:288,x2:291.3,y1:rowY(i),y2:rowY(i),stroke:"#333","stroke-width":1.3});
    
    
    const t=mk(root,"text",{x:281.5,y:rowY(i)+5.2,"font-size":15.9,"text-anchor":"end",fill:"#333"},n);
    
    
  });
  facets.forEach(function(f){
    const g=mk(root,"g",{});
    
    
    const xs=v=>f.zero+v*10.8;
    const strip=mk(g,"rect",{x:f.x0,y:774,width:f.x1-f.x0,height:22.3,fill:"#fff",stroke:"#333","stroke-width":1.3});
    
    
    const tt=mk(g,"text",{x:f.tx,y:790,"font-size":15.7,"text-anchor":"middle"},f.title);
    
    
    betaTicks.forEach(function(t){
      const l=mk(g,"line",{x1:xs(t),x2:xs(t),y1:799,y2:1442,stroke:"#e8e8e8","stroke-width":1.7});
      
      
      const tk=mk(g,"text",{x:xs(t)-(t<0?3:1.5),y:1458,"font-size":12,"text-anchor":"middle",fill:"#4d4d4d"},fmtMinus(t.toFixed(1)));
      
      
    });
    features.forEach(function(n,i){
      const l=mk(g,"line",{x1:f.x0+3,x2:f.x1-2,y1:rowY(i),y2:rowY(i),stroke:"#e8e8e8","stroke-width":1.7});
      
      
    });
    const n1=mk(g,"line",{x1:xs(f.nullAb),x2:xs(f.nullAb),y1:796,y2:1442,stroke:"#9a9a9a","stroke-width":1.9});
    
    
    const n2=mk(g,"line",{x1:xs(0),x2:xs(0),y1:796,y2:1442,stroke:"#9a9a9a","stroke-width":1.9,"stroke-dasharray":"7 4"});
    
    
    const frame=mk(g,"rect",{x:f.x0,y:796.3,width:f.x1-f.x0,height:646,fill:"none",stroke:"#333","stroke-width":1.4});
    
    
    function whisk(lo,hi,y,name){
      const a=xs(lo),b=xs(hi);
      const w=mk(g,"path",{d:"M"+a+" "+y+"H"+b+"M"+a+" "+(y-5)+"V"+(y+5)+"M"+b+" "+(y-5)+"V"+(y+5),fill:"none",stroke:"#111","stroke-width":1.9});
      
      
    }
    features.forEach(function(n,i){
      const y=rowY(i);
      if(f.pe[i]!==null){whisk(f.pl[i],f.ph[i],y,'prevalence-ci');}
      whisk(f.al[i],f.ah[i],y,'abundance-ci');
    });
    features.forEach(function(n,i){
      const y=rowY(i);
      if(f.pe[i]!==null){
        const px=xs(f.pe[i]);
        const tr=mk(g,"polygon",{points:px+","+(y-8.7)+" "+(px-6.7)+","+(y+4)+" "+(px+6.7)+","+(y+4),fill:col([0,128,128],f.pp[i]),stroke:"#111","stroke-width":1.6});
        
        
      }
      const c=mk(g,"circle",{cx:xs(f.ae[i]),cy:y,r:5.4,fill:col([139,0,139],f.ap[i]),stroke:"#111","stroke-width":1.6});
      
      
    });
  });
})();

/* ---------- Panel G heatmaps ---------- */
(function(){
  const root=$("gHeat");
  const binColor=v=>{
    if(v===null){return "#eeeeee";}
    if(v<=-0.75){return "#67a9cf";}
    if(v<=0){return "#d1e5f0";}
    if(v<=0.75){return "#fddbc7";}
    return "#b2182b";
  };
  const maps=[
    {title:"Prevalence",x0:627.7,x1:788.3,cx:632.7,tx:711,data:heatPrevalence},
    {title:"Abundance",x0:788.3,x1:949,cx:793.7,tx:872,data:heatAbundance}
  ];
  maps.forEach(function(m){
    const g=mk(root,"g",{});
    
    
    const strip=mk(g,"rect",{x:m.x0,y:774,width:m.x1-m.x0,height:22.3,fill:"#fff",stroke:"#333","stroke-width":1.4});
    
    
    const tt=mk(g,"text",{x:m.tx,y:790,"font-size":15.7,"text-anchor":"middle"},m.title);
    
    
    const frame=mk(g,"rect",{x:m.x0,y:796.3,width:m.x1-m.x0,height:646,fill:"#fff",stroke:"#333","stroke-width":1.4});
    
    
    m.data.forEach(function(row,r){
      row.forEach(function(v,c){
        const cell=mk(g,"rect",{x:m.cx+c*50.2+0.4,y:801.7+r*49+0.4,width:49.4,height:48.2,fill:binColor(v)});
        
        
      });
    });
    heatCols.forEach(function(n,c){
      const x=m.cx+(c+0.5)*50.2;
      const k=mk(g,"line",{x1:x,x2:x,y1:1442.3,y2:1445,stroke:"#333","stroke-width":1.3});
      
      
      const t=mk(g,"text",{"font-size":15.6,"text-anchor":"end",transform:"translate("+(x+5.5)+" 1451.7) rotate(-90)",fill:"#333"},n);
      
      
    });
  });
})();
</script>
</body>
</html>
